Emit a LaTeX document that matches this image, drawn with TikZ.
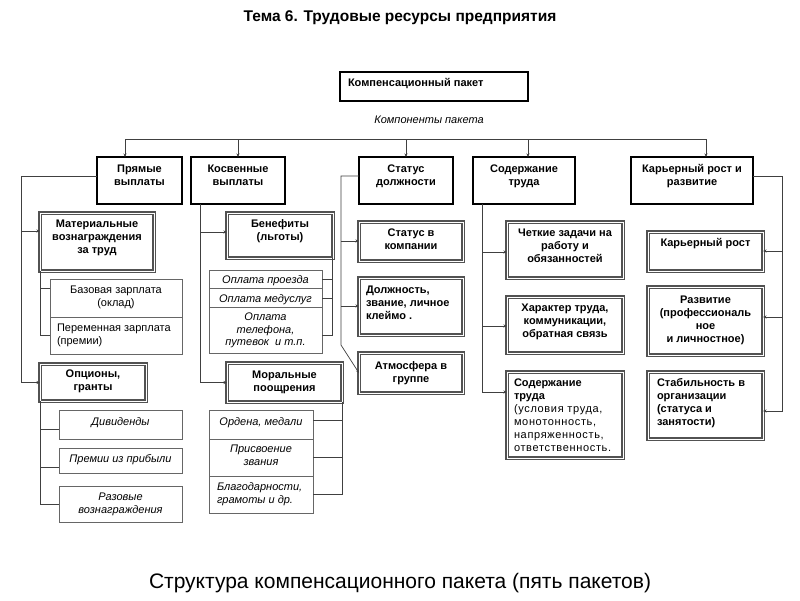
\documentclass[tikz,border=0pt]{standalone}
\usepackage{fontspec}
\setmainfont{Liberation Sans}
\usetikzlibrary{arrows.meta}
\newcommand\bt[5]{\parbox[t][#2pt][t]{#1pt}{#4\vspace*{\dimexpr#3pt-.72em\relax}\rule{0pt}{.72em}\ignorespaces#5}}
\tikzset{
  bx/.style={inner sep=0pt, outer sep=0pt, anchor=north west},
  lvlone/.style={bx, draw=black, line width=1.6pt, font=\fontsize{11}{13}\selectfont\bfseries},
  dbl/.style={bx, draw=black!68, double=white, double distance=0.9pt, line width=1.1pt, font=\fontsize{11}{13}\selectfont\bfseries},
  thin/.style={bx, draw=black!60, line width=0.7pt, font=\fontsize{11}{13}\selectfont},
  thinit/.style={thin, font=\fontsize{11}{12.5}\selectfont\itshape},
  conn/.style={draw=black!75, line width=0.7pt, -{Stealth[length=3.5pt,width=3pt]}},
  subl/.style={draw=black!75, line width=0.7pt},
  lbl/.style={inner sep=0pt, anchor=center},
}
\begin{document}
\begin{tikzpicture}[x=1pt,y=-1pt]
\fill[white] (0,0) rectangle (800,600);
\useasboundingbox (0,0) rectangle (800,600);

\node[lbl, font=\fontsize{15.5}{18}\selectfont\bfseries] (title) at (400,18) {Тема 6. Трудовые ресурсы предприятия};
\node[lbl, font=\fontsize{21}{24}\selectfont] (caption) at (400,583) {Структура компенсационного пакета (пять пакетов)};

\node[lvlone] (top) at (340,72) {\bt{188}{29}{14.5}{\raggedright\leftskip=8pt}{Компенсационный пакет}};
\node[lbl, font=\fontsize{11}{13}\selectfont\itshape] (komp) at (429,120) {Компоненты пакета};

\node[lvlone] (pr) at (97,157) {\bt{85}{47}{15.5}{\centering}{Прямые\\выплаты}};
\node[lvlone] (kos) at (191,157) {\bt{94}{47}{15.5}{\centering}{Косвенные\\выплаты}};
\node[lvlone] (stat) at (359,157) {\bt{94}{47}{15.5}{\centering}{Статус\\должности}};
\node[lvlone] (sod) at (473,157) {\bt{102}{47}{15.5}{\centering}{Содержание\\труда}};
\node[lvlone] (kar) at (631,157) {\bt{122}{47}{15.5}{\centering}{Карьерный рост и\\развитие}};

\node[dbl] (mat) at (40,213) {\bt{114}{58}{14.5}{\centering}{Материальные\\вознаграждения\\за труд}};
\node[dbl] (opc) at (40,364) {\bt{106}{37}{13.5}{\centering}{Опционы,\\гранты}};
\node[dbl] (ben) at (227,213) {\bt{106}{45}{14.5}{\centering}{Бенефиты\\(льготы)}};
\node[dbl] (mor) at (227,363) {\bt{115}{39}{15.5}{\centering}{Моральные\\поощрения}};
\node[dbl] (sk) at (359,222) {\bt{104}{39}{14.5}{\centering}{Статус в\\компании}};
\node[dbl] (dol) at (359,278) {\bt{104}{57}{15.5}{\raggedright\leftskip=7pt}{Должность,\\звание, личное\\клеймо .}};
\node[dbl] (atm) at (359,353) {\bt{104}{40}{16.5}{\centering}{Атмосфера в\\группе}};
\node[dbl] (che) at (507,222) {\bt{116}{56}{14.5}{\centering}{Четкие задачи на\\работу и\\обязанностей}};
\node[dbl] (har) at (507,297) {\bt{116}{56}{14.5}{\centering}{Характер труда,\\коммуникации,\\обратная связь}};
\node[dbl] (sdt) at (507,372) {\bt{116}{86}{14.5}{\raggedright\leftskip=7pt}{Содержание\\труда\\{\mdseries\addfontfeatures{LetterSpace=6}(условия труда,\\монотонность,\\напряженность,\\ответственность.}}};
\node[dbl] (kr) at (648,232) {\bt{115}{39}{14.5}{\centering}{Карьерный рост}};
\node[dbl] (raz) at (648,287) {\bt{115}{68}{16.5}{\centering}{Развитие\\(профессиональ\\ное\\и личностное)}};
\node[dbl] (stb) at (648,372) {\bt{115}{67}{14.5}{\raggedright\leftskip=9pt}{Стабильность в\\организации\\(статуса и\\занятости)}};

\node[thin] (baz) at (50,279) {\bt{132}{38}{14.5}{\centering}{Базовая зарплата\\(оклад)}};
\node[thin] (per) at (50,317) {\bt{132}{37}{14.5}{\raggedright\leftskip=7pt}{Переменная зарплата\\(премии)}};
\node[thinit] (div) at (59,410) {\bt{123}{29}{15.5}{\centering}{Дивиденды}};
\node[thinit] (prem) at (59,448) {\bt{123}{25}{14.5}{\centering}{Премии из прибыли}};
\node[thinit] (razv) at (59,486) {\bt{123}{36}{14.5}{\centering}{Разовые\\вознаграждения}};
\node[thinit] (op1) at (209,270) {\bt{113}{18}{13.5}{\centering}{Оплата проезда}};
\node[thinit] (op2) at (209,288) {\bt{113}{19}{14}{\centering}{Оплата медуслуг}};
\node[thinit] (op3) at (209,307) {\bt{113}{46}{13.5}{\centering}{Оплата\\телефона,\\путевок \ и т.п.}};
\node[thinit] (ord) at (209,410) {\bt{104}{29}{15.5}{\centering}{Ордена, медали}};
\node[thinit] (pris) at (209,439) {\bt{104}{37}{13.5}{\centering}{Присвоение\\звания}};
\node[thinit] (blag) at (209,476) {\bt{104}{37}{14.5}{\raggedright\leftskip=8pt}{Благодарности,\\грамоты и др.}};

% main distribution line
\coordinate (h1) at (125,139);
\coordinate (h2) at (238,139);
\coordinate (h3) at (406,139);
\coordinate (h4) at (528,139);
\coordinate (h5) at (706,139);
\draw[subl] (h1) -- (h5);
\foreach \c/\n in {h1/pr,h2/kos,h3/stat,h4/sod,h5/kar} \draw[conn] (\c) -- (\c |- \n.north);

% direct payments
\coordinate (pA) at (21,176);
\coordinate (pB) at (21,231);
\draw[conn] (pA -| pr.west) -- (pA) |- (opc.west);
\draw[conn] (pB) -- (pB -| mat.west);

% indirect payments
\coordinate (kA) at (200,232);
\draw[conn] (kA |- kos.south) |- (mor.west);
\draw[conn] (kA) -- (kA -| ben.west);

% status
\coordinate (sA) at (341,176);
\coordinate (sB) at (341,241);
\coordinate (sC) at (341,306);
\coordinate (sD) at (341,345);
\draw[conn] (sA -| stat.west) -- (sA) -- (sD) -- (atm.west);
\draw[conn] (sB) -- (sB -| sk.west);
\draw[conn] (sC) -- (sC -| dol.west);

% content of work
\coordinate (cA) at (482,252);
\coordinate (cB) at (482,326);
\coordinate (cC) at (482,392);
\draw[conn] (cC |- sod.south) -- (cC) -- (cC -| sdt.west);
\draw[conn] (cA) -- (cA -| che.west);
\draw[conn] (cB) -- (cB -| har.west);

% career
\coordinate (rA) at (782,176);
\coordinate (rB) at (782,251);
\coordinate (rC) at (782,317);
\coordinate (rD) at (782,411);
\draw[conn] (rA -| kar.east) -- (rA) -- (rD) -- (rD -| stb.east);
\draw[conn] (rB) -- (rB -| kr.east);
\draw[conn] (rC) -- (rC -| raz.east);

% material rewards subs
\coordinate (mA) at (40,288);
\draw[subl] (mat.south west) |- (per.west);
\draw[subl] (mA) -- (mA -| baz.west);

% options subs
\coordinate (oA) at (40,429);
\coordinate (oB) at (40,467);
\draw[subl] (opc.south west) |- (razv.west);
\draw[subl] (oA) -- (oA -| div.west);
\draw[subl] (oB) -- (oB -| prem.west);

% benefits subs
\coordinate (bA) at (332,279);
\coordinate (bB) at (332,298);
\coordinate (bC) at (332,335);
\draw[subl] (bA |- ben.south) -- (bC) -- (bC -| op3.east);
\draw[subl] (bA) -- (bA -| op1.east);
\draw[subl] (bB) -- (bB -| op2.east);

% moral subs
\coordinate (mrA) at (342,420);
\coordinate (mrB) at (342,457);
\draw[subl] (mor.south east) |- (blag.east);
\draw[subl] (mrA) -- (mrA -| ord.east);
\draw[subl] (mrB) -- (mrB -| pris.east);
\end{tikzpicture}
\end{document}
